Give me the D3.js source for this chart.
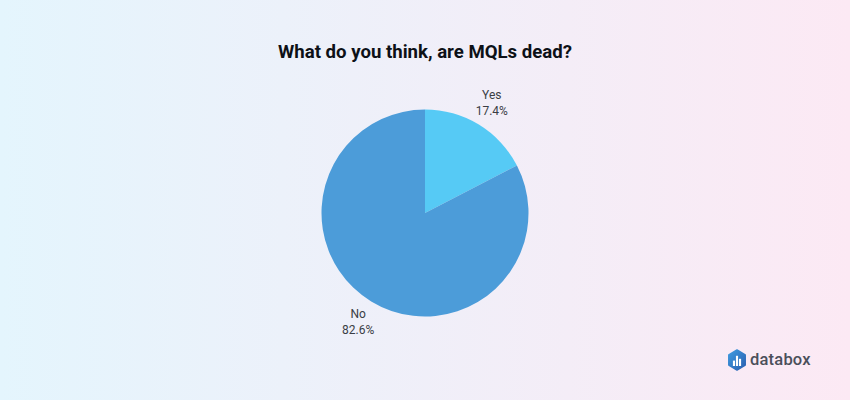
<!DOCTYPE html>
<html>

<head>
    <meta charset="utf-8">
    <title>What do you think, are MQLs dead?</title>
    <script src="https://d3js.org/d3.v7.min.js"></script>
</head>
<style>
    html, body {
        margin: 0;
        padding: 0;
    }

    svg {
        display: block;
        font-family: Roboto, sans-serif;
    }
</style>

<body>
    <svg id="chart"></svg>
    <script>
        // Values
        const categories = ["Yes", "No"];
        const shares = [17.4, 82.6];
        const sliceColors = ["#56caf5", "#4c9cd9"];
        const chartTitle = "What do you think, are MQLs dead?";
        const brandName = "databox";
        const logoBars = [0.45, 0.85, 0.6];

        const width = 850,
            height = 400;
        const cx = 425,
            cy = 213,
            radius = 103.5;

        const svg = d3.select("#chart")
            .attr("width", width)
            .attr("height", height);

        // Background fade from blue to pink
        const defs = svg.append("defs");
        const bg = defs.append("linearGradient").attr("id", "bg");
        bg.append("stop").attr("offset", "0%").attr("stop-color", "#e4f5fd");
        bg.append("stop").attr("offset", "100%").attr("stop-color", "#fce9f4");

        const logoFill = defs.append("linearGradient").attr("id", "logoFill")
            .attr("x1", 0).attr("y1", 0).attr("x2", 1).attr("y2", 1);
        logoFill.append("stop").attr("offset", "0%").attr("stop-color", "#3f9be0");
        logoFill.append("stop").attr("offset", "100%").attr("stop-color", "#2a5fb0");

        svg.append("rect")
            .attr("width", width)
            .attr("height", height)
            .attr("fill", "url(#bg)");

        svg.append("text")
            .attr("x", cx)
            .attr("y", 58)
            .attr("text-anchor", "middle")
            .attr("font-size", 18.6)
            .attr("font-weight", 700)
            .attr("fill", "#0d1117")
            .text(chartTitle);

        // Pie
        const pie = d3.pie().sort(null)(shares);
        const arc = d3.arc().innerRadius(0).outerRadius(radius);
        const labelArc = d3.arc().innerRadius(radius + 25).outerRadius(radius + 25);

        const chart = svg.append("g")
            .attr("transform", "translate(" + cx + "," + cy + ")");

        chart.selectAll("path")
            .data(pie)
            .enter()
            .append("path")
            .attr("d", arc)
            .attr("fill", function(d, i) {
                return sliceColors[i];
            });

        // Labels sit outside the slice, name above the percentage
        const labels = chart.selectAll("text")
            .data(pie)
            .enter()
            .append("text")
            .attr("text-anchor", "middle")
            .attr("font-size", 12)
            .attr("fill", "#3a3e45")
            .attr("transform", function(d) {
                return "translate(" + labelArc.centroid(d) + ")";
            });

        labels.append("tspan")
            .attr("x", 0)
            .attr("y", -4.5)
            .text(function(d, i) {
                return categories[i];
            });

        labels.append("tspan")
            .attr("x", 0)
            .attr("y", 11.5)
            .text(function(d) {
                return d.value + "%";
            });

        // Brand mark, bottom right
        const logo = svg.append("g")
            .attr("transform", "translate(737,360)");

        const hexagon = d3.range(6).map(function(i) {
            const a = Math.PI / 3 * i + Math.PI / 6;
            return [9.5 * Math.cos(a), 10 * Math.sin(a)];
        });

        logo.append("path")
            .attr("d", d3.line().curve(d3.curveLinearClosed)(hexagon))
            .attr("fill", "url(#logoFill)")
            .attr("stroke", "url(#logoFill)")
            .attr("stroke-width", 1.5)
            .attr("stroke-linejoin", "round");

        const logoX = d3.scaleBand().domain(d3.range(logoBars.length)).range([-5, 5]).padding(0.3);
        const logoY = d3.scaleLinear().domain([0, 1]).range([6, -6]);

        logo.selectAll("rect")
            .data(logoBars)
            .enter()
            .append("rect")
            .attr("x", function(d, i) {
                return logoX(i);
            })
            .attr("y", function(d) {
                return logoY(d);
            })
            .attr("width", logoX.bandwidth())
            .attr("height", function(d) {
                return logoY(0) - logoY(d);
            })
            .attr("fill", "#fff");

        svg.append("text")
            .attr("x", 750)
            .attr("y", 365)
            .attr("font-size", 16.5)
            .attr("font-weight", 500)
            .attr("letter-spacing", 0.2)
            .attr("fill", "#4a4f5a")
            .text(brandName);
    </script>

</body>

</html>
